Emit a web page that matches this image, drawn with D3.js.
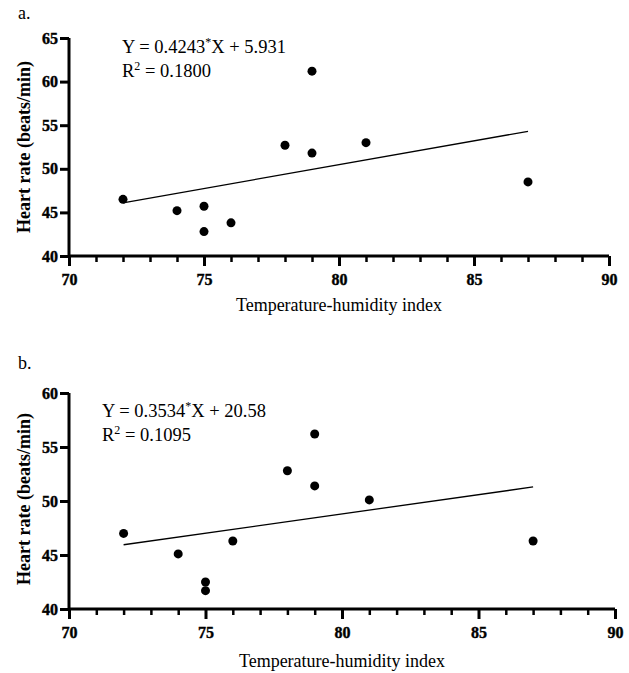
<!DOCTYPE html>
<html>
<head>
<meta charset="utf-8">
<script src="https://cdn.jsdelivr.net/npm/d3@7"></script>
<style>
  html, body { margin: 0; padding: 0; background: #fff; }
  svg { display: block; }
  text { font-family: "Liberation Serif", "Times New Roman", serif; fill: #000; }
</style>
</head>
<body>
<svg id="chart" width="629" height="673"></svg>
<script>
// ---- data ----
const thiA = [72, 74, 75, 75, 76, 78, 79, 79, 81, 87];
const hrA  = [46.5, 45.2, 45.7, 42.8, 43.8, 52.7, 51.8, 61.2, 53.0, 48.5];
const fitXA = [72, 87];
const fitYA = [46.1, 54.3];

const thiB = [72, 74, 75, 75, 76, 78, 79, 79, 81, 87];
const hrB  = [47.0, 45.1, 42.5, 41.7, 46.3, 52.8, 51.4, 56.2, 50.1, 46.3];
const fitXB = [72, 87];
const fitYB = [45.95, 51.3];

const xTicks = [70, 75, 80, 85, 90];
const xMinorTicks = [71,72,73,74,76,77,78,79,81,82,83,84,86,87,88,89];
const yTicksA = [40, 45, 50, 55, 60, 65];
const yTicksB = [40, 45, 50, 55, 60];

const FONT = '"Liberation Serif", "Times New Roman", serif';

const panels = [
  { label: "a.", thi: thiA, hr: hrA, fitX: fitXA, fitY: fitYA, yTicks: yTicksA,
    yDomain: [40, 65], eq: ["Y = 0.4243", "*", "X + 5.931"], r2: "0.1800",
    xr: [69, 609], yr: [256, 38], labelPos: [18, 19], eqPos: [122, 53],
    yTitleY: 147, xTitleY: 311 },
  { label: "b.", thi: thiB, hr: hrB, fitX: fitXB, fitY: fitYB, yTicks: yTicksB,
    yDomain: [40, 60], eq: ["Y = 0.3534", "*", "X + 20.58"], r2: "0.1095",
    xr: [69, 615], yr: [609, 393], labelPos: [18, 369], eqPos: [102, 417],
    yTitleY: 499, xTitleY: 667 }
];

const svg = d3.select("#chart");

panels.forEach(p => {
  const g = svg.append("g");
  const x = d3.scaleLinear().domain([70, 90]).range(p.xr);
  const y = d3.scaleLinear().domain(p.yDomain).range(p.yr);
  const x0 = p.xr[0], y0 = p.yr[0];

  // panel letter
  g.append("text").attr("x", p.labelPos[0]).attr("y", p.labelPos[1])
    .attr("font-family", FONT).attr("font-size", 18).text(p.label);

  // minor x ticks
  g.append("g").attr("transform", `translate(0,${y0})`)
    .call(d3.axisBottom(x).tickValues(xMinorTicks).tickSize(6).tickFormat(""))
    .call(s => s.select(".domain").remove())
    .call(s => s.selectAll("line").attr("stroke", "#000").attr("stroke-width", 2.5));

  // major x axis
  const xa = g.append("g").attr("transform", `translate(0,${y0})`)
    .call(d3.axisBottom(x).tickValues(xTicks).tickSize(10).tickSizeOuter(0).tickPadding(8).tickFormat(d3.format("d")))
    .attr("font-family", FONT).attr("font-size", 16).attr("font-weight", "bold");
  xa.select(".domain").attr("stroke", "#000").attr("stroke-width", 3).attr("d", `M${p.xr[0]},0H${p.xr[1]}`);
  xa.selectAll("line").attr("stroke", "#000").attr("stroke-width", 3);
  xa.selectAll("text").attr("fill", "#000").attr("stroke", "#000").attr("stroke-width", 0.4);

  // y axis
  const ya = g.append("g").attr("transform", `translate(${x0},0)`)
    .call(d3.axisLeft(y).tickValues(p.yTicks).tickSize(9).tickSizeOuter(0).tickPadding(2).tickFormat(d3.format("d")))
    .attr("font-family", FONT).attr("font-size", 16).attr("font-weight", "bold");
  ya.select(".domain").attr("stroke", "#000").attr("stroke-width", 3).attr("d", `M0,${p.yr[0] + 1.5}V${p.yr[1]}`);
  ya.selectAll("line").attr("stroke", "#000").attr("stroke-width", 3);
  ya.selectAll("text").attr("fill", "#000").attr("stroke", "#000").attr("stroke-width", 0.4);

  // regression line
  const lineData = p.fitX.map((v, i) => [v, p.fitY[i]]);
  g.append("path").datum(lineData)
    .attr("fill", "none").attr("stroke", "#000").attr("stroke-width", 1.3)
    .attr("d", d3.line().x(d => x(d[0])).y(d => y(d[1])));

  // points
  g.selectAll("circle.pt").data(p.thi.map((v, i) => [v, p.hr[i]]))
    .join("circle").attr("class", "pt")
    .attr("cx", d => x(d[0])).attr("cy", d => y(d[1])).attr("r", 4.5).attr("fill", "#000");

  // equation text
  const eq = g.append("text").attr("x", p.eqPos[0]).attr("y", p.eqPos[1])
    .attr("font-family", FONT).attr("font-size", 18.5);
  eq.append("tspan").text(p.eq[0]);
  eq.append("tspan").attr("dy", -7).attr("font-size", 12).text(p.eq[1]);
  eq.append("tspan").attr("dy", 7).text(p.eq[2]);

  const r2 = g.append("text").attr("x", p.eqPos[0]).attr("y", p.eqPos[1] + 24)
    .attr("font-family", FONT).attr("font-size", 18.5);
  r2.append("tspan").text("R");
  r2.append("tspan").attr("dy", -7).attr("font-size", 12).text("2");
  r2.append("tspan").attr("dy", 7).text(" = " + p.r2);

  // axis titles
  g.append("text")
    .attr("transform", `translate(30,${p.yTitleY}) rotate(-90)`)
    .attr("text-anchor", "middle")
    .attr("font-family", FONT).attr("font-size", 18).attr("font-weight", "bold")
    .text("Heart rate (beats/min)");

  g.append("text")
    .attr("x", (p.xr[0] + p.xr[1]) / 2).attr("y", p.xTitleY)
    .attr("text-anchor", "middle")
    .attr("font-family", FONT).attr("font-size", 18)
    .text("Temperature-humidity index");
});
</script>
</body>
</html>
